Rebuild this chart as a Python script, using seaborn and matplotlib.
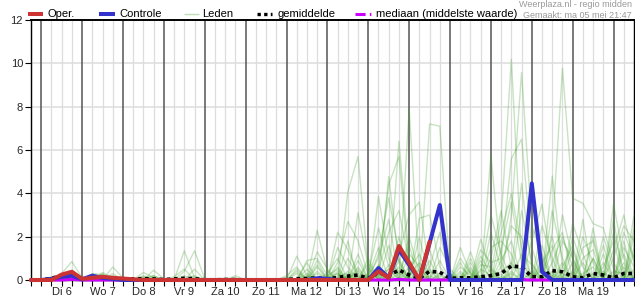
import matplotlib
matplotlib.use("Agg")
import matplotlib.pyplot as plt
import seaborn as sns
import pandas as pd
from matplotlib.lines import Line2D

# ---------------- data ----------------
# hours since Di 6 00:00, 6-hourly
uren = list(range(-6, 349, 6))

dag_labels = ["Di 6", "Wo 7", "Do 8", "Vr 9", "Za 10", "Zo 11", "Ma 12",
              "Di 13", "Wo 14", "Do 15", "Vr 16", "Za 17", "Zo 18", "Ma 19"]
y_ticks = [0, 2, 4, 6, 8, 10, 12]

# Oper. run (until Do 15 12h)
oper = {12: 0.25, 18: 0.38, 24: 0.05, 30: 0.1, 36: 0.15, 42: 0.1, 48: 0.07,
        54: 0.03, 198: 0.4, 204: 0.1, 210: 1.57, 216: 0.8, 222: 0.0, 228: 1.77}
oper_einde = 228

# Controle run
controle = {6: 0.05, 12: 0.15, 18: 0.2, 24: 0.03, 30: 0.2, 36: 0.1, 42: 0.05,
            162: 0.08, 168: 0.05, 198: 0.55, 204: 0.1, 210: 1.4, 216: 0.7,
            222: 0.0, 228: 1.7, 234: 3.46, 240: 0.0, 288: 4.46, 294: 0.38}

# ensemble mean (gemiddelde), one value per entry of `uren`
gemiddelde = [0.0, 0.0, 0.08, 0.2, 0.22, 0.05, 0.15, 0.12, 0.08, 0.03,
              0.05, 0.06, 0.05, 0.02, 0.05, 0.08, 0.06, 0.01, 0.01, 0.02,
              0.02, 0.0, 0.0, 0.0, 0.0, 0.02, 0.06, 0.07, 0.1, 0.05,
              0.12, 0.18, 0.23, 0.07, 0.34, 0.2, 0.46, 0.23, 0.07, 0.4,
              0.36, 0.07, 0.1, 0.1, 0.15, 0.2, 0.3, 0.65, 0.6, 0.15,
              0.15, 0.43, 0.38, 0.15, 0.1, 0.3, 0.23, 0.1, 0.3, 0.3]

# median (mediaan)
mediaan = {18: 0.03, 210: 0.03, 282: 0.02}

# ensemble members (leden): hour -> precipitation, other hours 0
leden = [
    {12: 0.3, 18: 0.85, 24: 0.1, 42: 0.6, 48: 0.1, 60: 0.35, 66: 0.1, 84: 1.35, 90: 0.1,
     150: 1.1, 156: 0.2, 174: 2.2, 180: 1.4, 186: 0.3, 198: 3.85, 204: 1.0, 216: 7.88,
     222: 0.3, 246: 1.5, 252: 0.3, 264: 5.77, 270: 0.8, 300: 4.8, 306: 0.6, 324: 1.0,
     342: 1.5, 348: 0.6},
    {12: 0.25, 18: 0.45, 24: 0.05, 36: 0.35, 42: 0.1, 66: 0.45, 72: 0.05, 84: 0.4,
     90: 1.35, 96: 0.05, 162: 2.3, 168: 0.4, 180: 4.07, 186: 5.7, 192: 0.5, 204: 4.77,
     210: 0.8, 222: 2.85, 228: 3.0, 234: 0.6, 258: 1.88, 264: 0.4, 270: 2.77,
     276: 10.18, 282: 1.0, 306: 3.0, 312: 1.0, 336: 3.5, 342: 1.0},
    {6: 0.15, 12: 0.2, 18: 0.3, 30: 0.3, 36: 0.25, 60: 0.2, 78: 0.15, 84: 0.5, 114: 0.2,
     156: 0.9, 162: 1.0, 168: 0.2, 186: 3.1, 192: 0.6, 210: 6.4, 216: 1.0, 228: 7.2,
     234: 7.1, 240: 0.3, 252: 1.0, 276: 3.0, 282: 9.58, 288: 2.5, 294: 1.2, 318: 1.5,
     324: 1.8, 348: 3.0},
    {18: 0.2, 24: 0.1, 42: 0.3, 54: 0.1, 90: 0.5, 108: 0.1, 150: 0.3, 162: 0.7,
     174: 1.5, 180: 0.6, 198: 0.5, 204: 4.4, 210: 5.7, 216: 0.5, 222: 1.2, 258: 1.4,
     264: 0.8, 270: 1.0, 276: 5.6, 282: 6.5, 288: 1.5, 300: 2.2, 306: 9.77, 312: 3.77,
     318: 3.54, 324: 2.6, 330: 2.4, 336: 0.8},
    {12: 0.15, 30: 0.2, 66: 0.15, 156: 0.5, 180: 1.0, 186: 0.2, 198: 1.2, 204: 3.8,
     210: 1.2, 216: 3.0, 222: 3.6, 228: 0.4, 246: 0.8, 264: 1.0, 270: 3.2, 276: 0.5,
     282: 4.46, 288: 0.5, 300: 2.0, 312: 2.0, 318: 0.6, 336: 1.0, 342: 2.5, 348: 1.8},
    {18: 0.1, 36: 0.15, 162: 0.4, 174: 0.8, 180: 2.7, 186: 1.8, 192: 0.2, 198: 1.5,
     216: 2.0, 222: 0.3, 252: 0.6, 264: 1.5, 270: 1.8, 276: 1.2, 294: 2.5, 300: 1.0,
     318: 0.8, 330: 1.2, 342: 2.2, 348: 1.0},
    {12: 0.2, 18: 0.25, 42: 0.1, 156: 0.3, 174: 0.6, 186: 0.6, 198: 0.7, 210: 2.0,
     216: 0.3, 234: 1.5, 240: 0.5, 258: 0.9, 270: 0.6, 276: 2.5, 282: 2.0, 294: 0.6,
     306: 1.8, 312: 1.0, 324: 1.0, 336: 2.2, 342: 0.4},
    {6: 0.1, 18: 0.15, 30: 0.15, 36: 0.2, 144: 0.2, 150: 0.6, 168: 0.3, 174: 1.0,
     192: 0.8, 204: 1.6, 216: 1.2, 222: 0.6, 246: 1.0, 252: 0.3, 264: 2.2, 270: 0.5,
     288: 1.8, 294: 3.5, 300: 0.6, 312: 1.4, 324: 2.0, 342: 1.2},
    {12: 0.1, 24: 0.15, 42: 0.2, 60: 0.1, 162: 1.3, 168: 0.5, 180: 0.4, 192: 0.3,
     198: 2.4, 204: 0.6, 216: 0.4, 228: 1.4, 240: 0.2, 252: 1.3, 270: 2.2, 276: 4.0,
     282: 1.5, 300: 1.4, 306: 2.2, 318: 2.8, 330: 0.8, 348: 2.4},
    {18: 0.35, 36: 0.1, 66: 0.2, 174: 0.4, 186: 1.2, 198: 0.4, 204: 2.2, 210: 3.2,
     216: 0.8, 234: 0.9, 246: 0.4, 258: 0.7, 264: 0.6, 282: 3.2, 288: 0.8, 300: 3.2,
     306: 1.0, 318: 1.0, 324: 1.4, 336: 2.8, 348: 2.0},
    {12: 0.18, 30: 0.25, 84: 0.2, 150: 0.5, 162: 0.3, 180: 1.8, 192: 1.0, 204: 0.3,
     210: 1.0, 222: 2.0, 234: 0.3, 252: 0.8, 270: 1.4, 276: 3.6, 282: 0.8, 294: 1.6,
     312: 2.6, 318: 1.2, 330: 1.6, 342: 0.6},
    {18: 0.12, 42: 0.15, 90: 0.15, 156: 0.8, 168: 0.1, 174: 0.3, 186: 0.9, 204: 0.5,
     210: 0.3, 216: 1.6, 228: 0.9, 246: 0.3, 258: 0.4, 264: 3.0, 270: 1.2, 288: 0.4,
     300: 0.8, 306: 2.0, 312: 0.6, 324: 2.4, 336: 1.4, 342: 3.0, 348: 0.8},
    {12: 0.12, 36: 0.1, 60: 0.15, 162: 0.6, 180: 0.2, 192: 0.2, 198: 1.0, 204: 2.8,
     216: 0.2, 222: 0.8, 240: 0.3, 252: 0.4, 270: 0.9, 276: 1.8, 294: 1.0, 306: 0.6,
     312: 1.6, 330: 2.0, 336: 0.5, 348: 1.5},
    {18: 0.18, 30: 0.1, 168: 0.2, 174: 0.5, 198: 0.3, 210: 0.9, 228: 0.6, 234: 2.2,
     240: 0.1, 258: 1.1, 264: 0.3, 282: 1.2, 288: 0.7, 300: 0.4, 318: 2.0, 324: 0.8,
     342: 1.8},
    {12: 0.1, 18: 0.1, 36: 0.12, 144: 0.1, 156: 0.2, 186: 0.4, 204: 0.7, 210: 0.4,
     222: 0.5, 246: 0.6, 252: 0.2, 270: 0.4, 276: 0.8, 294: 0.8, 300: 1.6, 312: 0.4,
     330: 0.6, 336: 1.8, 348: 0.4},
    {6: 0.05, 12: 0.1, 30: 0.12, 42: 0.05, 174: 0.2, 180: 0.3, 198: 0.2, 204: 0.5,
     216: 0.6, 240: 0.2, 258: 0.5, 264: 0.2, 276: 0.6, 282: 0.5, 306: 0.8, 318: 0.3,
     324: 0.6, 342: 0.8},
    {12: 0.08, 18: 0.1, 24: 0.05, 30: 0.08, 36: 0.05, 180: 0.15, 192: 0.1, 198: 0.25,
     210: 0.3, 228: 0.2, 246: 0.2, 264: 0.3, 270: 0.25, 288: 0.3, 300: 0.3, 312: 0.3,
     336: 0.4, 342: 0.3},
    {18: 0.06, 36: 0.08, 186: 0.15, 204: 0.2, 216: 0.15, 234: 0.2, 252: 0.15,
     276: 0.3, 294: 0.2, 306: 0.3, 324: 0.3, 348: 0.5},
    {12: 0.05, 30: 0.05, 174: 0.1, 198: 0.15, 222: 0.15, 240: 0.1, 258: 0.2,
     270: 0.15, 282: 0.3, 300: 0.2, 318: 0.2, 330: 0.3, 342: 0.2},
    {6: 0.08, 18: 0.2, 36: 0.3, 60: 0.1, 66: 0.2, 90: 0.2, 114: 0.1, 150: 0.4,
     162: 0.9, 174: 0.3, 186: 0.5, 210: 0.6, 228: 0.5, 252: 0.5, 264: 0.5, 276: 0.4,
     294: 0.5, 312: 0.8, 330: 0.4, 348: 1.2},
]

# ---------------- tables ----------------
def reeks(d, tot=348):
    return [d.get(u, 0.0) for u in uren if u <= tot]

rows = []
for i, lid in enumerate(leden):
    for u, v in zip(uren, reeks(lid)):
        rows.append({"uur": u, "waarde": v, "lid": i})
df_leden = pd.DataFrame(rows)
df_gem = pd.DataFrame({"uur": uren, "waarde": gemiddelde})
df_med = pd.DataFrame({"uur": uren, "waarde": reeks(mediaan)})
df_ctrl = pd.DataFrame({"uur": uren, "waarde": reeks(controle)})
df_oper = pd.DataFrame({"uur": [u for u in uren if u <= oper_einde],
                        "waarde": reeks(oper, oper_einde)})

# ---------------- plot ----------------
sns.set_style("white")
plt.rcParams["font.family"] = ["Liberation Sans", "DejaVu Sans"]

W, H = 635, 300
fig = plt.figure(figsize=(W / 100, H / 100), dpi=100)
ax = fig.add_axes([31 / W, 20 / H, 603 / W, 260 / H])

GREEN = "#3a9d23"
RED = "#cc3333"
BLUE = "#3333cc"
MAGENTA = "#cc00ff"

sns.lineplot(data=df_leden, x="uur", y="waarde", units="lid", estimator=None,
             color=GREEN, alpha=0.28, lw=1.0, ax=ax, legend=False,
             clip_on=False, zorder=3)
sns.lineplot(data=df_gem, x="uur", y="waarde", color="black", lw=2.6,
             ax=ax, legend=False, clip_on=False, zorder=4)
ax.lines[-1].set_linestyle((0, (1, 1)))
sns.lineplot(data=df_med, x="uur", y="waarde", color=MAGENTA, lw=2.2,
             ax=ax, legend=False, clip_on=False, zorder=4)
sns.lineplot(data=df_ctrl, x="uur", y="waarde", color=BLUE, lw=2.9,
             ax=ax, legend=False, clip_on=False, zorder=5)
sns.lineplot(data=df_oper, x="uur", y="waarde", color=RED, lw=2.9,
             ax=ax, legend=False, clip_on=False, zorder=6)

ax.set_xlim(-6, 348)
ax.set_ylim(0, 12)

# grid
for u in uren:
    if u % 24 == 0:
        ax.axvline(u, color="#555555", lw=1.1, zorder=1)
    else:
        ax.axvline(u, color="#dddddd", lw=0.9, zorder=0)
for y in y_ticks[1:-1]:
    ax.axhline(y, color="#dddddd", lw=1.1, zorder=0)

# ticks
xt_labels = []
for u in uren:
    d = u // 24
    if u % 24 == 12 and 0 <= d < len(dag_labels):
        xt_labels.append(dag_labels[d])
    else:
        xt_labels.append("")
ax.set_xticks(uren)
ax.set_xticklabels(xt_labels)
ax.set_yticks(y_ticks)
ax.set_yticklabels([str(v) for v in y_ticks])
ax.tick_params(axis="x", length=4, width=0.8, pad=1.2, labelsize=8, color="black",
               bottom=True)
ax.tick_params(axis="y", length=4.3, width=0.8, pad=1.4, labelsize=8, color="black",
               left=True)
ax.set_xlabel("")
ax.set_ylabel("")
for s in ["left", "bottom", "top", "right"]:
    ax.spines[s].set_visible(True)
    ax.spines[s].set_color("black")
    ax.spines[s].set_linewidth(1.0)
ax.spines["top"].set_linewidth(1.4)

# legend (manual)
ly = 1 - 13.7 / H
items = [
    (28, 43, 47, "Oper.", dict(color=RED, lw=2.9)),
    (99, 115, 119, "Controle", dict(color=BLUE, lw=2.9)),
    (184, 199, 202, "Leden", dict(color="#bfe0b5", lw=1.0)),
    (257, 272, 277, "gemiddelde", dict(color="black", lw=2.4, linestyle=(0, (1, 1)))),
    (355, 373, 376, "mediaan (middelste waarde)",
     dict(color=MAGENTA, lw=2.2, linestyle=(0, (3.3, 1.4, 0.5, 1.4)))),
]
for x0, x1, xt, txt, kw in items:
    fig.add_artist(Line2D([x0 / W, x1 / W], [ly, ly], transform=fig.transFigure,
                          solid_capstyle="butt", **kw))
    fig.text(xt / W, ly, txt, va="center", ha="left", fontsize=8, color="black")

fig.text(632 / W, 1 - 4.8 / H, "Weerplaza.nl - regio midden", ha="right",
         va="center", fontsize=6.5, color="#999999")
fig.text(632 / W, 1 - 15 / H, "Gemaakt: ma 05 mei 21:47", ha="right",
         va="center", fontsize=6.5, color="#999999")

fig.savefig("out.png", dpi=100)
